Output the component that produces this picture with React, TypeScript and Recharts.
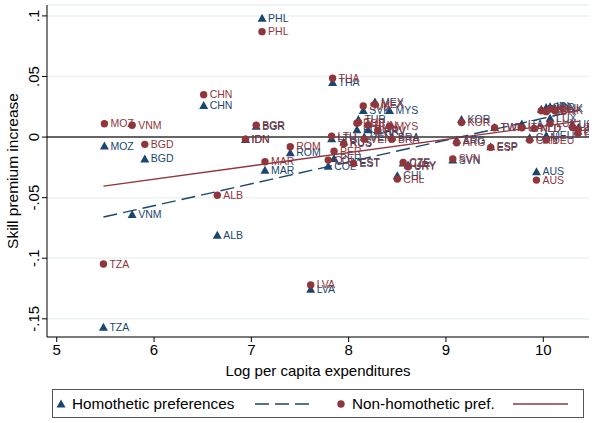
import React from 'react';
import {
  ScatterChart,
  Scatter,
  XAxis,
  YAxis,
  CartesianGrid,
  ReferenceLine,
} from 'recharts';

const countries = [
  'MOZ', 'VNM', 'BGD', 'TZA', 'CHN', 'ALB', 'IDN', 'BGR', 'PHL', 'MAR',
  'ROM', 'LVA', 'COL', 'THA', 'LTU', 'PER', 'RUS', 'EST', 'POL', 'TUR',
  'SVK', 'VEN', 'HUN', 'MEX', 'HRV', 'MYS', 'BRA', 'CHL', 'CZE', 'URY',
  'SVN', 'ARG', 'KOR', 'ESP', 'TWN', 'ITA', 'CAN', 'NLD', 'AUS', 'FIN',
  'GBR', 'DEU', 'IRL', 'LUX', 'DNK', 'USA', 'CHE', 'JPN',
];

const logExpenditure = [
  5.49, 5.775, 5.905, 5.48, 6.51, 6.65, 6.94, 7.05, 7.11, 7.14,
  7.4, 7.61, 7.79, 7.835, 7.825, 7.85, 7.95, 8.05, 8.085, 8.1,
  8.15, 8.16, 8.2, 8.27, 8.3, 8.42, 8.445, 8.5, 8.56, 8.61,
  9.07, 9.11, 9.16, 9.46, 9.5, 9.78, 9.86, 9.905, 9.93, 9.98,
  10.03, 10.03, 10.07, 10.07, 10.12, 10.3, 10.355, 10.36,
];

const homotheticPremium = [
  -0.0074, -0.064, -0.018, -0.157, 0.026, -0.081, -0.002, 0.009, 0.098, -0.0273,
  -0.013, -0.1256, -0.024, 0.045, -0.0014, -0.0176, -0.004, -0.021, 0.006, 0.0146,
  0.022, 0.0, 0.006, 0.029, 0.005, 0.022, 0.0, -0.032, -0.0215, -0.023,
  -0.019, -0.0025, 0.0146, -0.008, 0.008, 0.0107, -0.0006, 0.0075, -0.0287, 0.023,
  0.0245, 0.001, 0.025, 0.0155, 0.0235, 0.0105, 0.005, 0.008,
];

const nonHomotheticPremium = [
  0.011, 0.0097, -0.006, -0.1047, 0.035, -0.048, -0.0017, 0.0097, 0.087, -0.0204,
  -0.008, -0.122, -0.019, 0.0485, 0.0008, -0.0116, -0.0055, -0.0218, 0.0115, 0.012,
  0.0256, -0.0017, 0.0097, 0.027, 0.0055, 0.009, -0.0017, -0.0347, -0.021, -0.0245,
  -0.018, -0.0047, 0.012, -0.0085, 0.0077, 0.0077, -0.0025, 0.0072, -0.0355, 0.0217,
  0.021, -0.0025, 0.0232, 0.0113, 0.0217, 0.008, 0.003, 0.0064,
];

// fitted lines: endpoints in data units
const fitX = [5.48, 10.375];
const homotheticFit = [-0.066, 0.0223];
const nonHomotheticFit = [-0.0405, 0.0132];

const xTicks = [5, 6, 7, 8, 9, 10];
const yTicks = [-0.15, -0.1, -0.05, 0, 0.05, 0.1];

const BLUE = '#1a476f';
const RED = '#90353b';
const FONT = '"Liberation Sans", Arial, sans-serif';

const homData = countries.map((name, i) => ({ name, x: logExpenditure[i], y: homotheticPremium[i] }));
const nonData = countries.map((name, i) => ({ name, x: logExpenditure[i], y: nonHomotheticPremium[i] }));
const homFitData = fitX.map((x, i) => ({ x, y: homotheticFit[i] }));
const nonFitData = fitX.map((x, i) => ({ x, y: nonHomotheticFit[i] }));

const fmtY = (v: number) => {
  if (v === 0) return '0';
  const s = String(Math.round(v * 100) / 100);
  return s.replace('0.', '.');
};

const Triangle = (props: any) => {
  const { cx, cy, payload } = props;
  return (
    <g>
      <polygon
        points={`${cx},${cy - 4.5} ${cx - 4.5},${cy + 3.5} ${cx + 4.5},${cy + 3.5}`}
        fill={BLUE}
      />
      <text x={cx + 6} y={cy + 3.6} fontSize={10.5} fill={BLUE} fontFamily={FONT}>
        {payload.name}
      </text>
    </g>
  );
};

const Dot = (props: any) => {
  const { cx, cy, payload } = props;
  return (
    <g>
      <circle cx={cx} cy={cy} r={3.7} fill={RED} />
      <text x={cx + 6} y={cy + 3.6} fontSize={10.5} fill={RED} fontFamily={FONT}>
        {payload.name}
      </text>
    </g>
  );
};

const NoMark = () => <g />;

const YTick = (props: any) => {
  const { x, y, payload } = props;
  return (
    <text
      x={x - 1}
      y={y}
      transform={`rotate(-90, ${x - 1}, ${y})`}
      textAnchor="middle"
      fontSize={15}
      fill="#000"
      fontFamily={FONT}
    >
      {fmtY(payload.value)}
    </text>
  );
};

export default function App() {
  return (
    <div
      style={{
        position: 'absolute',
        left: 0,
        top: 0,
        width: 603,
        height: 423,
        background: '#fff',
        fontFamily: FONT,
      }}
    >
      <ScatterChart width={603} height={423} margin={{ top: 5, right: 14, bottom: 41, left: 0 }}>
        <CartesianGrid vertical={false} stroke="#eaf2f3" strokeWidth={1.5} />
        <XAxis
          type="number"
          dataKey="x"
          domain={[4.9, 10.47]}
          ticks={xTicks}
          allowDataOverflow
          height={45}
          tickSize={5}
          stroke="#000"
          tick={{ fontSize: 15, fill: '#000', fontFamily: FONT }}
          label={{
            value: 'Log per capita expenditures',
            position: 'insideBottom',
            offset: 6,
            fontSize: 15,
            fill: '#000',
            fontFamily: FONT,
          }}
        />
        <YAxis
          type="number"
          dataKey="y"
          domain={[-0.165, 0.109]}
          ticks={yTicks}
          allowDataOverflow
          width={47}
          tickSize={5}
          stroke="#000"
          tick={<YTick />}
          label={{
            value: 'Skill premium increase',
            angle: -90,
            position: 'insideLeft',
            offset: 12,
            style: { textAnchor: 'middle' },
            fontSize: 15.5,
            fill: '#000',
            fontFamily: FONT,
          }}
        />
        <ReferenceLine y={0} stroke="#666" strokeWidth={2} />
        <Scatter data={homData} shape={<Triangle />} isAnimationActive={false} />
        <Scatter
          data={homFitData}
          shape={<NoMark />}
          line={{ stroke: BLUE, strokeWidth: 1.4, strokeDasharray: '14 6' }}
          isAnimationActive={false}
        />
        <Scatter data={nonData} shape={<Dot />} isAnimationActive={false} />
        <Scatter
          data={nonFitData}
          shape={<NoMark />}
          line={{ stroke: RED, strokeWidth: 1.4 }}
          isAnimationActive={false}
        />
      </ScatterChart>

      <svg
        width={532}
        height={29}
        style={{ position: 'absolute', left: 52, top: 389, overflow: 'visible' }}
      >
        <rect x={0.5} y={0.5} width={531} height={28} fill="#fff" stroke="#555" strokeWidth={1} />
        <polygon points="9,10.5 4.5,18.5 13.5,18.5" fill={BLUE} />
        <text x={20} y={20} fontSize={15.3} fill="#000" fontFamily={FONT}>
          Homothetic preferences
        </text>
        <line x1={203} y1={15} x2={258} y2={15} stroke={BLUE} strokeWidth={1.4} strokeDasharray="14 6" />
        <circle cx={289} cy={15} r={3.7} fill={RED} />
        <text x={300} y={20} fontSize={15.3} fill="#000" fontFamily={FONT}>
          Non-homothetic pref.
        </text>
        <line x1={461} y1={15} x2={516} y2={15} stroke={RED} strokeWidth={1.4} />
      </svg>
    </div>
  );
}
